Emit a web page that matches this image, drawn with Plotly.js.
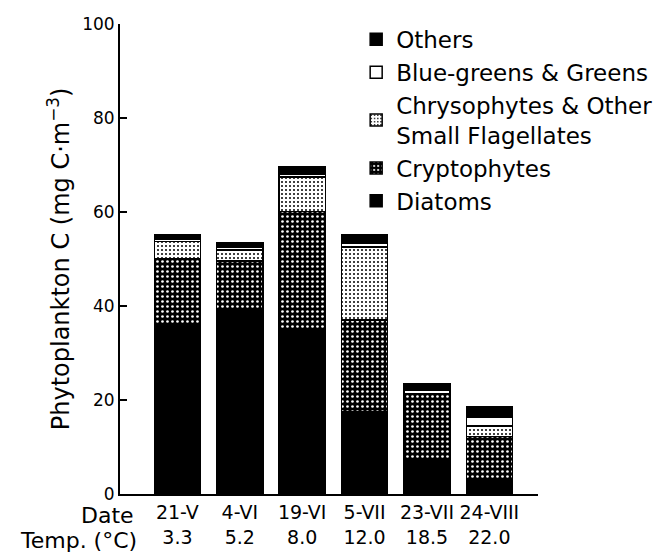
<!DOCTYPE html>
<html>
<head>
<meta charset="utf-8">
<script src="https://cdn.plot.ly/plotly-3.0.1.min.js"></script>
<style>html,body{margin:0;padding:0;background:#fff;}#chart{width:670px;height:552px;}</style>
</head>
<body>
<div id="chart"></div>
<script>
// ---- data (mg C m^-3) ----
const categories   = ['21-V', '4-VI', '19-VI', '5-VII', '23-VII', '24-VIII'];
const temps        = ['3.3', '5.2', '8.0', '12.0', '18.5', '22.0'];
const diatoms      = [36.0, 39.5, 35.2, 17.5, 7.0, 3.0];
const cryptophytes = [14.1, 10.1, 24.9, 19.5, 14.3, 9.2];
const chrysophytes = [3.6, 2.3, 7.4, 15.6, 0.8, 2.3];
const blueGreens   = [0.5, 0.6, 0.6, 0.7, 0.4, 1.9];
const others       = [0.9, 1.0, 1.5, 1.8, 1.0, 2.2];
const yTicks       = [0, 20, 40, 60, 80, 100];

const FONT = 'DejaVu Sans, Arial, sans-serif';
const outline = {color: '#000', width: 1.5};

function bar(name, y, marker) {
  return {type: 'bar', name: name, x: categories, y: y,
          marker: Object.assign({line: outline}, marker), hoverinfo: 'name+y'};
}

const traces = [
  bar('Diatoms', diatoms, {color: '#000'}),
  bar('Cryptophytes', cryptophytes,
      {color: '#000', pattern: {shape: '.', bgcolor: '#000', fgcolor: '#fff', size: 5, solidity: 0.22, fillmode: 'replace'}}),
  bar('Chrysophytes & Other<br>Small Flagellates', chrysophytes,
      {color: '#fff', pattern: {shape: '.', bgcolor: '#fff', fgcolor: '#000', size: 4, solidity: 0.2, fillmode: 'replace'}}),
  bar('Blue-greens & Greens', blueGreens, {color: '#fff'}),
  bar('Others', others, {color: '#000'})
];

const layout = {
  width: 670, height: 552,
  margin: {l: 120, r: 103, t: 24, b: 58, pad: 0},
  paper_bgcolor: '#fff', plot_bgcolor: '#fff',
  barmode: 'stack', bargap: 0.26,
  font: {family: FONT, color: '#000'},
  showlegend: true,
  legend: {x: 0.565, y: 1.013, xanchor: 'left', yanchor: 'top',
           traceorder: 'reversed', tracegroupgap: 0,
           font: {family: FONT, size: 23, color: '#000'},
           bgcolor: 'rgba(0,0,0,0)'},
  xaxis: {type: 'category', range: [-0.92, 5.78],
          tickvals: categories,
          ticktext: categories.map((c, i) => c + '<br>' + temps[i]),
          tickfont: {family: FONT, size: 19, color: '#000'},
          showline: true, linecolor: '#000', linewidth: 2,
          ticks: '', showgrid: false, zeroline: false, fixedrange: true},
  yaxis: {range: [0, 100], tickvals: yTicks,
          ticks: 'inside', ticklen: 7, tickwidth: 2, tickcolor: '#000',
          tickfont: {family: FONT, size: 17, color: '#000'},
          showline: true, linecolor: '#000', linewidth: 2,
          showgrid: false, zeroline: false, fixedrange: true,
          title: {text: 'Phytoplankton C (mg C\u00b7m<sup>\u22123</sup>)',
                  font: {family: FONT, size: 24, color: '#000'}, standoff: 6}},
  annotations: [
    {text: 'Date', xref: 'paper', yref: 'paper', x: 0.038, y: -0.045,
     xanchor: 'right', yanchor: 'middle', showarrow: false,
     font: {family: FONT, size: 22, color: '#000'}},
    {text: 'Temp. (\u00b0C)', xref: 'paper', yref: 'paper', x: 0.0447, y: -0.0995,
     xanchor: 'right', yanchor: 'middle', showarrow: false,
     font: {family: FONT, size: 22, color: '#000'}}
  ]
};

Plotly.newPlot('chart', traces, layout, {displayModeBar: false, staticPlot: true});
</script>
</body>
</html>
